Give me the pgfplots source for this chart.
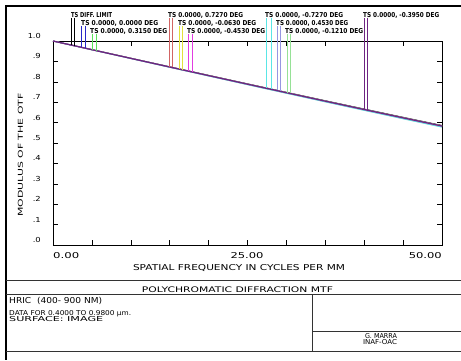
\documentclass[border=0pt]{standalone}
\usepackage{pgfplots}
\pgfplotsset{compat=1.18}
\usepackage{pgfplotstable}
\usepackage{graphicx}
\usepackage{fontspec}
\setmainfont{DejaVu Sans}
\newcommand\zw[3]{\resizebox{#1pt}{#2pt}{#3}}
\definecolor{cblue}{RGB}{40,40,200}
\definecolor{cgreen}{RGB}{90,225,90}
\definecolor{cred}{RGB}{210,100,100}
\definecolor{cyel}{RGB}{225,225,60}
\definecolor{cmag}{RGB}{225,60,225}
\definecolor{ccyan}{RGB}{90,230,230}
\definecolor{clav}{RGB}{150,150,225}
\definecolor{clgreen}{RGB}{150,225,150}
\definecolor{cpurp}{RGB}{110,35,130}
\pgfplotstableread{
f   dl     a      b      c      d      e      g      h      i      j
0   1.0000 1.0000 1.0000 1.0000 1.0000 1.0000 1.0000 1.0000 1.0000 1.0000
5   0.9579 0.9576 0.9575 0.9571 0.9576 0.9574 0.9570 0.9574 0.9576 0.9575
10  0.9158 0.9152 0.9150 0.9142 0.9152 0.9148 0.9140 0.9148 0.9152 0.9150
15  0.8737 0.8729 0.8726 0.8714 0.8729 0.8723 0.8711 0.8723 0.8729 0.8726
20  0.8319 0.8309 0.8305 0.8289 0.8309 0.8301 0.8285 0.8301 0.8309 0.8305
25  0.7902 0.7890 0.7885 0.7865 0.7890 0.7880 0.7860 0.7880 0.7890 0.7885
30  0.7487 0.7473 0.7467 0.7443 0.7473 0.7461 0.7437 0.7461 0.7473 0.7467
35  0.7075 0.7059 0.7052 0.7024 0.7059 0.7045 0.7017 0.7045 0.7059 0.7052
40  0.6667 0.6649 0.6641 0.6609 0.6649 0.6633 0.6601 0.6633 0.6649 0.6641
45  0.6262 0.6243 0.6234 0.6197 0.6243 0.6225 0.6188 0.6225 0.6243 0.6234
50  0.5862 0.5842 0.5832 0.5790 0.5842 0.5822 0.5780 0.5822 0.5842 0.5832
}\mtf
\begin{document}
\begin{tikzpicture}
\useasboundingbox (0pt,0pt) rectangle (461pt,-360pt);
\begin{axis}[at={(53pt,-245pt)}, anchor=south west, scale only axis,
  width=389pt, height=204pt, xmin=0, xmax=50, ymin=0, ymax=1, clip=false,
  axis line style={line width=0.6pt}, tick align=inside, major tick length=5pt,
  tick style={black, line width=0.6pt},
  xtick={0,5,10,15,20,25,30,35,40,45,50},
  ytick={0,0.1,0.2,0.3,0.4,0.5,0.6,0.7,0.8,0.9,1},
  xticklabels={}, yticklabels={}]
\addplot[black, line width=0.8pt] table[x=f,y=dl]{\mtf};
\addplot[cblue, line width=0.8pt] table[x=f,y=a]{\mtf};
\addplot[cgreen, line width=0.8pt] table[x=f,y=b]{\mtf};
\addplot[cred, line width=0.8pt] table[x=f,y=c]{\mtf};
\addplot[cyel, line width=0.8pt] table[x=f,y=d]{\mtf};
\addplot[cmag, line width=0.8pt] table[x=f,y=e]{\mtf};
\addplot[ccyan, line width=1pt] table[x=f,y=g]{\mtf};
\addplot[clav, line width=0.8pt] table[x=f,y=h]{\mtf};
\addplot[clgreen, line width=0.8pt] table[x=f,y=i]{\mtf};
\addplot[cpurp, line width=1.3pt] table[x=f,y=j]{\mtf};
% legend drop lines
\addplot[black, line width=0.7pt] coordinates {(2.32,1.113) (2.32,0.9805)};
\addplot[black, line width=0.7pt] coordinates {(2.71,1.113) (2.71,0.9772)};
\addplot[cblue, line width=0.7pt] coordinates {(3.61,1.074) (3.61,0.9696)};
\addplot[cblue, line width=0.7pt] coordinates {(4.12,1.074) (4.12,0.9653)};
\addplot[cgreen, line width=0.7pt] coordinates {(5.03,1.034) (5.03,0.9576)};
\addplot[cgreen, line width=0.7pt] coordinates {(5.54,1.034) (5.54,0.9533)};
\addplot[cred, line width=0.7pt] coordinates {(14.95,1.113) (14.95,0.8741)};
\addplot[cred, line width=0.7pt] coordinates {(15.34,1.113) (15.34,0.8709)};
\addplot[cyel, line width=0.7pt] coordinates {(16.24,1.074) (16.24,0.8633)};
\addplot[cyel, line width=0.7pt] coordinates {(16.62,1.074) (16.62,0.8601)};
\addplot[cmag, line width=0.7pt] coordinates {(17.40,1.034) (17.40,0.8536)};
\addplot[cmag, line width=0.7pt] coordinates {(17.90,1.034) (17.90,0.8494)};
\addplot[ccyan, line width=0.7pt] coordinates {(27.45,1.113) (27.45,0.7699)};
\addplot[ccyan, line width=0.7pt] coordinates {(28.10,1.113) (28.10,0.7645)};
\addplot[clav, line width=0.7pt] coordinates {(28.87,1.074) (28.87,0.7581)};
\addplot[clav, line width=0.7pt] coordinates {(29.25,1.074) (29.25,0.7549)};
\addplot[clgreen, line width=0.7pt] coordinates {(30.15,1.034) (30.15,0.7475)};
\addplot[clgreen, line width=0.7pt] coordinates {(30.54,1.034) (30.54,0.7442)};
\addplot[cpurp, line width=0.7pt] coordinates {(40.08,1.113) (40.08,0.6661)};
\addplot[cpurp, line width=0.7pt] coordinates {(40.46,1.113) (40.46,0.6630)};
\end{axis}
% frame
\draw[line width=2.3pt] (5pt,-6.2pt) -- (461pt,-6.2pt);
\draw[line width=2.3pt] (6.2pt,-5pt) -- (6.2pt,-360pt);
\draw[line width=0.8pt, black!80] (6pt,-280pt) -- (461pt,-280pt);
\draw[line width=0.8pt, black!80] (6pt,-294pt) -- (461pt,-294pt);
\draw[line width=0.8pt, black!80] (312pt,-294pt) -- (312pt,-351pt);
\draw[line width=0.8pt, black!80] (312pt,-331pt) -- (461pt,-331pt);
\draw[line width=0.8pt, black!80] (6pt,-351pt) -- (461pt,-351pt);
% legend labels
\begin{scope}[every node/.style={inner sep=0pt, anchor=base west, font=\bfseries}]
\node at (71pt,-17.3pt) {\zw{41}{5}{TS DIFF. LIMIT}};
\node at (81pt,-25.3pt) {\zw{77}{5}{TS 0.0000, 0.0000 DEG}};
\node at (90pt,-33.3pt) {\zw{77}{5}{TS 0.0000, 0.3150 DEG}};
\node at (168pt,-17.3pt) {\zw{75}{5}{TS 0.0000, 0.7270 DEG}};
\node at (178pt,-25.3pt) {\zw{78}{5}{TS 0.0000, -0.0630 DEG}};
\node at (187pt,-33.3pt) {\zw{78}{5}{TS 0.0000, -0.4530 DEG}};
\node at (265pt,-17.3pt) {\zw{78}{5}{TS 0.0000, -0.7270 DEG}};
\node at (276pt,-25.3pt) {\zw{72}{5}{TS 0.0000, 0.4530 DEG}};
\node at (285pt,-33.3pt) {\zw{78}{5}{TS 0.0000, -0.1210 DEG}};
\node at (363pt,-17.3pt) {\zw{76}{5}{TS 0.0000, -0.3950 DEG}};
\end{scope}
\begin{scope}[every node/.style={inner sep=0pt, anchor=base west}]
\node at (9pt,-303pt) {\zw{93}{6.2}{HRIC\ \ (400- 900 NM)}};
\node at (9pt,-315pt) {\zw{122}{5}{DATA FOR 0.4000 TO 0.9800 µm.}};
\node at (9pt,-321pt) {\zw{94}{5}{SURFACE: IMAGE}};
\node at (53pt,-258pt) {\zw{26}{6}{0.00}};
\end{scope}
\begin{scope}[every node/.style={inner sep=0pt, anchor=base east}]
\foreach \v/\l in {0/.0,1/.1,2/.2,3/.3,4/.4,5/.5,6/.6,7/.7,8/.8,9/.9}
  \node at (41pt,{-(245-20.4*\v)*1pt+2.5pt}) {\scalebox{0.84}[0.69]{\l}};
\node at (41pt,{-(245-204)*1pt+2.5pt}) {\scalebox{0.82}[0.69]{1.0}};
\node at (442pt,-258pt) {\zw{33}{6}{50.00}};
\end{scope}
\begin{scope}[every node/.style={inner sep=0pt, anchor=base}]
\node at (247pt,-258pt) {\zw{33}{6}{25.00}};
\node at (239pt,-270pt) {\zw{212}{6}{SPATIAL FREQUENCY IN CYCLES PER MM}};
\node at (237.5pt,-292pt) {\zw{191}{5.7}{POLYCHROMATIC DIFFRACTION MTF}};
\node at (381pt,-338pt) {\zw{32}{5}{G. MARRA}};
\node at (380pt,-344pt) {\zw{34}{5}{INAF-OAC}};
\end{scope}
\node[inner sep=0pt, rotate=90, anchor=center] at (20.5pt,-155pt) {\zw{123}{5}{MODULUS OF THE OTF}};
\end{tikzpicture}
\end{document}
